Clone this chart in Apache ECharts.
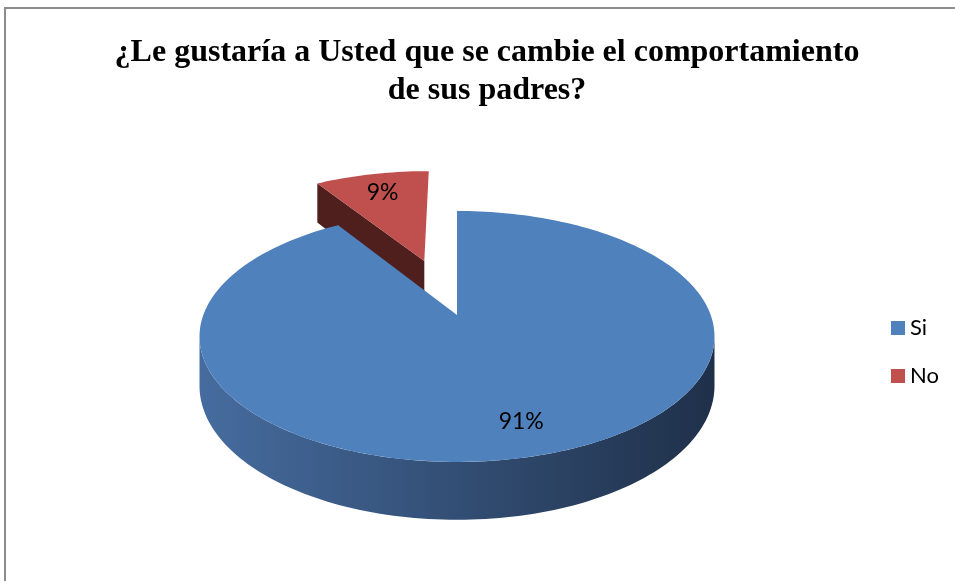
<!DOCTYPE html>
<html><head><meta charset="utf-8">
<script src="https://cdn.jsdelivr.net/npm/echarts@6/dist/echarts.min.js"></script>
<style>html,body{margin:0;padding:0;background:#fff}#c{width:955px;height:581px}</style>
</head><body><div id="c"></div>
<script>
// ---- data ----
const categories = ['Si', 'No'];
const values = [91, 9];
const percentLabels = ['91%', '9%'];

// ---- styles (not data) ----
const topColors = ['#4f81bd', '#c0504d'];
const sideStops = [['#466c9f', '#1f3049'], ['#9a403e', '#4f1f1e']];
const radialColors = ['#2c4770', '#4f1f1e'];
const explodeDist = [0, 0.5];
const labelRadius = [0.79, 0.77];

// 3D projection parameters (perspective tilted disc)
const P = { cx: 457, cy: 315, A: 253.7, B: 121.8, k: 0.171, D: 48 };
function proj(u, v, drop) {
  const w = 1 + P.k * v;
  return [P.cx + P.A * u / w, P.cy - P.B * v / w + (drop ? P.D / w : 0)];
}

const total = values.reduce((a, b) => a + b, 0);
const starts = [];
let acc = 0;
values.forEach(v => { starts.push(acc / total); acc += v; });

function makeRender(i) {
  return function (params, api) {
    const a0 = api.value(0) * 2 * Math.PI;
    const a1 = api.value(1) * 2 * Math.PI;
    const mid = (a0 + a1) / 2;
    const ex = explodeDist[i] * Math.sin(mid);
    const ey = explodeDist[i] * Math.cos(mid);
    const pt = (t, r, drop) => proj(r * Math.sin(t) + ex, r * Math.cos(t) + ey, drop);
    const children = [];
    const N = 120;
    // outer side wall (front visible part)
    const tR = Math.acos(-P.k), tL = 2 * Math.PI - tR;
    const s = Math.max(a0, tR), e = Math.min(a1, tL);
    if (e > s) {
      const pts = [];
      for (let j = 0; j <= N; j++) pts.push(pt(s + (e - s) * j / N, 1, false));
      for (let j = N; j >= 0; j--) pts.push(pt(s + (e - s) * j / N, 1, true));
      children.push({
        type: 'polygon', shape: { points: pts },
        style: {
          fill: { type: 'linear', x: P.cx - P.A * 1.02, y: 0, x2: P.cx + P.A * 1.02, y2: 0, global: true,
            colorStops: [{ offset: 0, color: sideStops[i][0] }, { offset: 1, color: sideStops[i][1] }] }
        }
      });
    }
    // radial faces facing the viewer
    const faces = [[a0, -1], [a1, 1]];
    faces.forEach(([t, sgn]) => {
      const nv = sgn * (-Math.sin(t));
      if (nv < -0.05 && (a1 - a0) < 2 * Math.PI - 1e-6) {
        const c0 = proj(ex, ey, false), c1 = proj(ex, ey, true);
        const p0 = pt(t, 1, false), p1 = pt(t, 1, true);
        children.push({ type: 'polygon', shape: { points: [c0, p0, p1, c1] }, style: { fill: radialColors[i] } });
      }
    });
    // top face
    const topPts = [proj(ex, ey, false)];
    const M = Math.max(8, Math.ceil((a1 - a0) / (2 * Math.PI) * 240));
    for (let j = 0; j <= M; j++) topPts.push(pt(a0 + (a1 - a0) * j / M, 1, false));
    children.push({ type: 'polygon', shape: { points: topPts }, style: { fill: topColors[i] } });
    // label
    const lp = pt(mid, labelRadius[i], false);
    children.push({
      type: 'text',
      style: { text: percentLabels[i], x: lp[0], y: lp[1], fill: '#000', fontSize: 23, fontFamily: 'Lato',
        align: 'center', verticalAlign: 'middle' }
    });
    return { type: 'group', children: children };
  };
}

const series = [1, 0].map(i => ({
  type: 'custom',
  name: categories[i],
  coordinateSystem: 'none',
  itemStyle: { color: topColors[i] },
  silent: true,
  data: [[starts[i], starts[i] + values[i] / total]],
  renderItem: makeRender(i)
}));

const chart = echarts.init(document.getElementById('c'));
chart.setOption({
  animation: false,
  backgroundColor: '#fff',
  title: {
    text: '¿Le gustaría a Usted que se cambie el comportamiento\nde sus padres?',
    left: 482, top: 29, textAlign: 'center',
    textStyle: { fontFamily: 'Liberation Serif', fontWeight: 'bold', fontSize: 32, lineHeight: 38, color: '#000' }
  },
  legend: {
    data: categories, orient: 'vertical', left: 886, top: 309,
    icon: 'rect', itemWidth: 14, itemHeight: 14, itemGap: 20,
    textStyle: { fontFamily: 'Lato', fontSize: 22, lineHeight: 28, color: '#000' },
    selectedMode: false
  },
  graphic: [{
    type: 'rect', shape: { x: 5, y: 8, width: 1000, height: 1000 },
    style: { fill: 'none', stroke: '#8c8c8c', lineWidth: 2 }, silent: true, z: 100
  }],
  series: series
});
</script>
</body></html>
